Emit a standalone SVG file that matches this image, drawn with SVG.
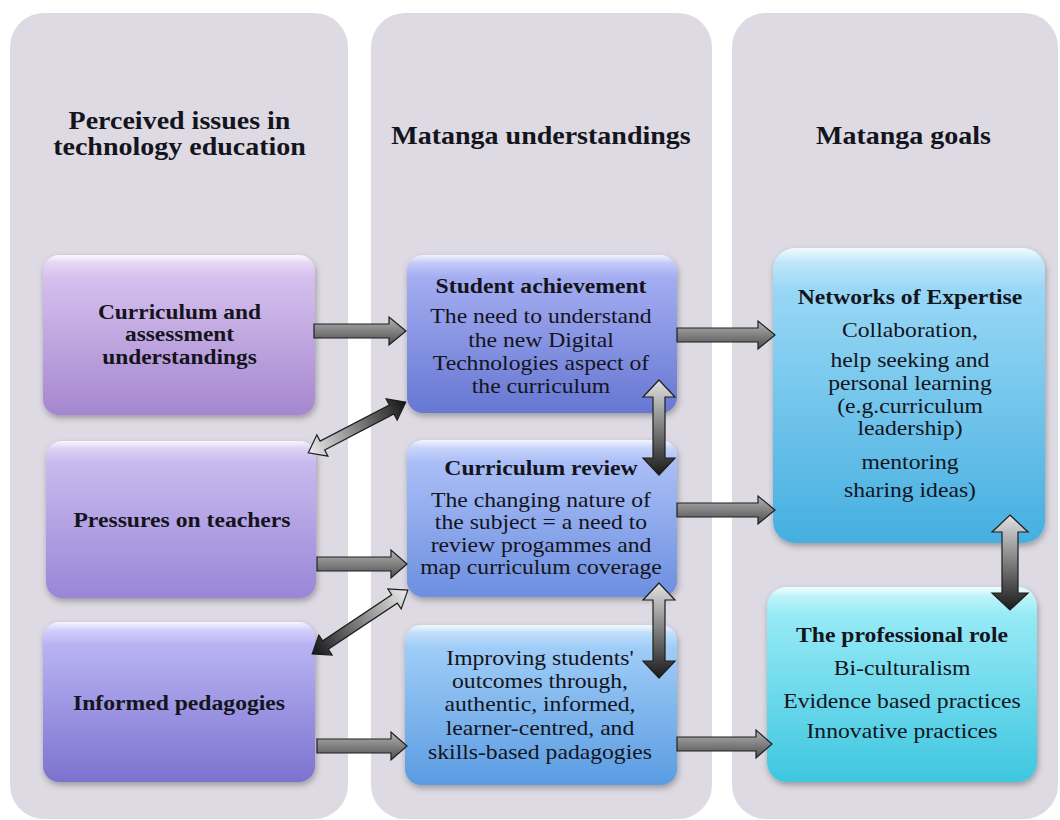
<svg xmlns="http://www.w3.org/2000/svg" width="1060" height="820" viewBox="0 0 1060 820">
<style>
  text { font-family: "Liberation Serif", "Times New Roman", serif; fill: #14141c; text-anchor: middle; }
  .h { font-size: 25px; font-weight: bold; }
  .b { font-size: 21.5px; font-weight: bold; }
  .bs { font-size: 20px; font-weight: bold; }
  .r { font-size: 21.5px; }
  .panel { fill: #dddae3; }
  .box { filter: url(#sh); }
  .gl { fill: url(#gloss); }
  .ha { fill: url(#hgrad); stroke: #1e1e1e; stroke-width: 1.2; }
  .va { fill: url(#vgrad); stroke: #1e1e1e; stroke-width: 1.2; }
</style>
<defs>
  <filter id="sh" x="-10%" y="-10%" width="125%" height="130%">
    <feDropShadow dx="1" dy="3" stdDeviation="3" flood-color="#000" flood-opacity="0.3"/>
  </filter>
  <linearGradient id="gloss" x1="0" y1="0" x2="0" y2="1">
    <stop offset="0" stop-color="#fff" stop-opacity="0.85"/>
    <stop offset="0.05" stop-color="#fff" stop-opacity="0.3"/>
    <stop offset="0.14" stop-color="#fff" stop-opacity="0"/>
  </linearGradient>
  <linearGradient id="gA" x1="0" y1="0" x2="0" y2="1"><stop offset="0" stop-color="#ddc9f2"/><stop offset="1" stop-color="#a587cf"/></linearGradient>
  <linearGradient id="gB" x1="0" y1="0" x2="0" y2="1"><stop offset="0" stop-color="#d0c2f2"/><stop offset="1" stop-color="#9a86d8"/></linearGradient>
  <linearGradient id="gC" x1="0" y1="0" x2="0" y2="1"><stop offset="0" stop-color="#c3befa"/><stop offset="1" stop-color="#7c72cf"/></linearGradient>
  <linearGradient id="gD" x1="0" y1="0" x2="0" y2="1"><stop offset="0" stop-color="#aeb6f6"/><stop offset="1" stop-color="#6677d2"/></linearGradient>
  <linearGradient id="gE" x1="0" y1="0" x2="0" y2="1"><stop offset="0" stop-color="#b4c6fa"/><stop offset="1" stop-color="#6c8fe0"/></linearGradient>
  <linearGradient id="gF" x1="0" y1="0" x2="0" y2="1"><stop offset="0" stop-color="#aad4fa"/><stop offset="1" stop-color="#5a9ce2"/></linearGradient>
  <linearGradient id="gG" x1="0" y1="0" x2="0" y2="1"><stop offset="0" stop-color="#a6def9"/><stop offset="1" stop-color="#45afe0"/></linearGradient>
  <linearGradient id="gH" x1="0" y1="0" x2="0" y2="1"><stop offset="0" stop-color="#a6f0fa"/><stop offset="1" stop-color="#3ec6e0"/></linearGradient>
  <linearGradient id="hgrad" x1="0" y1="0" x2="0" y2="1"><stop offset="0" stop-color="#b4b4b4"/><stop offset="1" stop-color="#4e4e4e"/></linearGradient>
  <linearGradient id="vgrad" x1="0" y1="0" x2="0" y2="1"><stop offset="0" stop-color="#e2e2e2"/><stop offset="1" stop-color="#1a1a1a"/></linearGradient>
  <linearGradient id="dLD" x1="0" y1="0" x2="1" y2="0"><stop offset="0" stop-color="#eeeeee"/><stop offset="1" stop-color="#151515"/></linearGradient>
  <linearGradient id="dDL" x1="0" y1="0" x2="1" y2="0"><stop offset="0" stop-color="#151515"/><stop offset="1" stop-color="#eeeeee"/></linearGradient>
</defs>

<rect width="1060" height="820" fill="#ffffff"/>

<g id="panels">
  <rect class="panel" x="10" y="13" width="338" height="806" rx="34"/>
  <rect class="panel" x="371" y="13" width="341" height="806" rx="34"/>
  <rect class="panel" x="732" y="13" width="326" height="806" rx="34"/>
</g>

<g id="headings">
  <text class="h" transform="translate(179.5 0) scale(1.12 1)" y="129">Perceived issues in</text>
  <text class="h" transform="translate(179.5 0) scale(1.12 1)" y="155">technology education</text>
  <text class="h" transform="translate(541 0) scale(1.12 1)" y="144">Matanga understandings</text>
  <text class="h" transform="translate(903.5 0) scale(1.12 1)" y="144">Matanga goals</text>
</g>

<g id="node-curriculum-assessment">
  <rect class="box" x="43" y="255" width="272" height="160" rx="16" fill="url(#gA)"/>
  <rect class="gl" x="43" y="255" width="272" height="160" rx="16"/>
  <text class="bs" transform="translate(179.5 0) scale(1.17 1)" y="319">Curriculum and</text>
  <text class="bs" transform="translate(179.5 0) scale(1.17 1)" y="341.5">assessment</text>
  <text class="bs" transform="translate(179.5 0) scale(1.17 1)" y="364">understandings</text>
</g>

<g id="node-pressures">
  <rect class="box" x="46" y="441" width="270" height="157" rx="16" fill="url(#gB)"/>
  <rect class="gl" x="46" y="441" width="270" height="157" rx="16"/>
  <text class="b" transform="translate(182 0) scale(1.1 1)" y="527">Pressures on teachers</text>
</g>

<g id="node-informed">
  <rect class="box" x="43" y="622" width="272" height="160" rx="16" fill="url(#gC)"/>
  <rect class="gl" x="43" y="622" width="272" height="160" rx="16"/>
  <text class="b" transform="translate(179 0) scale(1.1 1)" y="710">Informed pedagogies</text>
</g>

<g id="node-student-achievement">
  <rect class="box" x="407" y="255" width="270" height="158" rx="16" fill="url(#gD)"/>
  <rect class="gl" x="407" y="255" width="270" height="158" rx="16"/>
  <text class="b" transform="translate(541 0) scale(1.1 1)" y="293">Student achievement</text>
  <text class="r" transform="translate(541 0) scale(1.1 1)" y="323">The need to understand</text>
  <text class="r" transform="translate(541 0) scale(1.1 1)" y="347">the new Digital</text>
  <text class="r" transform="translate(541 0) scale(1.1 1)" y="370">Technologies aspect of</text>
  <text class="r" transform="translate(541 0) scale(1.1 1)" y="393">the curriculum</text>
</g>

<g id="node-curriculum-review">
  <rect class="box" x="407" y="440" width="270" height="157" rx="16" fill="url(#gE)"/>
  <rect class="gl" x="407" y="440" width="270" height="157" rx="16"/>
  <text class="b" transform="translate(541 0) scale(1.1 1)" y="475">Curriculum review</text>
  <text class="r" transform="translate(541 0) scale(1.1 1)" y="507">The changing nature of</text>
  <text class="r" transform="translate(541 0) scale(1.1 1)" y="529">the subject = a need to</text>
  <text class="r" transform="translate(541 0) scale(1.1 1)" y="552">review progammes and</text>
  <text class="r" transform="translate(541 0) scale(1.1 1)" y="574">map curriculum coverage</text>
</g>

<g id="node-improving">
  <rect class="box" x="405" y="625" width="272" height="160" rx="16" fill="url(#gF)"/>
  <rect class="gl" x="405" y="625" width="272" height="160" rx="16"/>
  <text class="r" transform="translate(540 0) scale(1.1 1)" y="665">Improving students'</text>
  <text class="r" transform="translate(540 0) scale(1.1 1)" y="688">outcomes through,</text>
  <text class="r" transform="translate(540 0) scale(1.1 1)" y="711">authentic, informed,</text>
  <text class="r" transform="translate(540 0) scale(1.1 1)" y="735">learner-centred, and</text>
  <text class="r" transform="translate(540 0) scale(1.1 1)" y="759">skills-based padagogies</text>
</g>

<g id="node-networks">
  <rect class="box" x="773" y="248" width="272" height="295" rx="22" fill="url(#gG)"/>
  <rect class="gl" x="773" y="248" width="272" height="295" rx="22"/>
  <text class="b" transform="translate(910 0) scale(1.1 1)" y="304">Networks of Expertise</text>
  <text class="r" transform="translate(910 0) scale(1.1 1)" y="337">Collaboration,</text>
  <text class="r" transform="translate(910 0) scale(1.1 1)" y="367">help seeking and</text>
  <text class="r" transform="translate(910 0) scale(1.1 1)" y="390">personal learning</text>
  <text class="r" transform="translate(910 0) scale(1.1 1)" y="413">(e.g.curriculum</text>
  <text class="r" transform="translate(910 0) scale(1.1 1)" y="435">leadership)</text>
  <text class="r" transform="translate(910 0) scale(1.1 1)" y="469">mentoring</text>
  <text class="r" transform="translate(910 0) scale(1.1 1)" y="497">sharing ideas)</text>
</g>

<g id="node-professional-role">
  <rect class="box" x="767" y="587" width="270" height="195" rx="20" fill="url(#gH)"/>
  <rect class="gl" x="767" y="587" width="270" height="195" rx="20"/>
  <text class="b" transform="translate(902 0) scale(1.1 1)" y="642">The professional role</text>
  <text class="r" transform="translate(902 0) scale(1.1 1)" y="675">Bi-culturalism</text>
  <text class="r" transform="translate(902 0) scale(1.1 1)" y="708">Evidence based practices</text>
  <text class="r" transform="translate(902 0) scale(1.1 1)" y="738">Innovative practices</text>
</g>

<g id="connectors">
  <path class="ha" d="M314,324 L389,324 L389,317 L406,331 L389,345 L389,338 L314,338 Z"/>
  <path class="ha" d="M317,557 L391,557 L391,550 L407,564 L391,578 L391,571 L317,571 Z"/>
  <path class="ha" d="M317,739 L391,739 L391,732 L407,746 L391,760 L391,753 L317,753 Z"/>
  <path class="ha" d="M677,328 L758,328 L758,321 L775,335 L758,349 L758,342 L677,342 Z"/>
  <path class="ha" d="M677,503 L758,503 L758,496 L775,510 L758,524 L758,517 L677,517 Z"/>
  <path class="ha" d="M677,737 L756,737 L756,730 L772,744 L756,758 L756,751 L677,751 Z"/>
  <path class="va" d="M659,380 L675,397 L665,397 L665,458 L675,458 L659,475 L643,458 L653,458 L653,397 L643,397 Z"/>
  <path class="va" d="M659,583 L675,600 L665,600 L665,661 L675,661 L659,678 L643,661 L653,661 L653,600 L643,600 Z"/>
  <path class="va" d="M1010,515 L1028,532 L1018,532 L1018,593 L1028,593 L1010,610 L992,593 L1002,593 L1002,532 L992,532 Z"/>
  <path fill="url(#dLD)" stroke="#1e1e1e" stroke-width="1.2" transform="translate(357 427.5) rotate(-27.5)" d="M-55,0 L-39,-12 L-39,-5 L39,-5 L39,-12 L55,0 L39,12 L39,5 L-39,5 L-39,12 Z"/>
  <path fill="url(#dDL)" stroke="#1e1e1e" stroke-width="1.2" transform="translate(360 622) rotate(-33.7)" d="M-57.5,0 L-41.5,-12 L-41.5,-5 L41.5,-5 L41.5,-12 L57.5,0 L41.5,12 L41.5,5 L-41.5,5 L-41.5,12 Z"/>
</g>
</svg>
